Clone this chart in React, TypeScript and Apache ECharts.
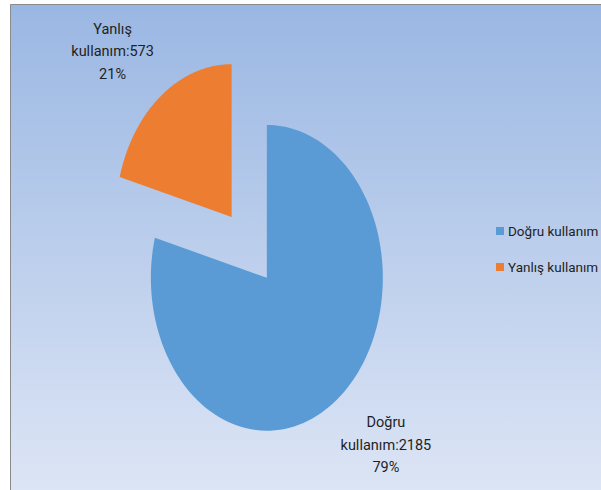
import React, { useEffect, useRef } from "react";
import * as echarts from "echarts";

const categories = ["Doğru kullanım", "Yanlış kullanım"];
const values = [2185, 573];
const colors = ["#5B9BD5", "#ED7D31"];
const explode = [0, 0.5];

const FONT = "Roboto, 'Noto Sans', sans-serif";

export default function App() {
  const ref = useRef<HTMLDivElement>(null);
  useEffect(() => {
    if (!ref.current) return;
    const chart = echarts.init(ref.current, undefined, { renderer: "svg" });
    const total = values.reduce((a, b) => a + b, 0);

    const renderItem = (params: any, api: any) => {
      const W = api.getWidth();
      const H = api.getHeight();
      const cx0 = W * 0.444;
      const cy0 = H * 0.567;
      const rx = W * 0.193;
      const ry = H * 0.312;
      const i = params.dataIndex;
      const v = api.value(0);
      let before = 0;
      for (let k = 0; k < i; k++) before += values[k];
      const a0 = (before / total) * Math.PI * 2;
      const a1 = ((before + v) / total) * Math.PI * 2;
      const mid = (a0 + a1) / 2;
      const ex = explode[i] || 0;
      const cx = cx0 + ex * rx * Math.sin(mid);
      const cy = cy0 - ex * ry * Math.cos(mid);
      const pts: number[][] = [[cx, cy]];
      const n = 120;
      for (let s = 0; s <= n; s++) {
        const a = a0 + ((a1 - a0) * s) / n;
        pts.push([cx + rx * Math.sin(a), cy - ry * Math.cos(a)]);
      }
      const pct = Math.round((v / total) * 100);
      const label = categories[i].replace(" ", "\n") + ":" + v + "\n" + pct + "%";
      const lx = cx + rx * 1.69 * Math.sin(mid);
      const ly = cy - ry * 1.37 * Math.cos(mid) + 1;
      return {
        type: "group",
        children: [
          {
            type: "polygon",
            shape: { points: pts },
            style: { fill: colors[i], stroke: null },
          },
          {
            type: "text",
            style: {
              text: label,
              x: lx,
              y: ly,
              align: "center",
              verticalAlign: "middle",
              fontSize: 14.5,
              lineHeight: 22.5,
              fontFamily: FONT,
              fill: "#1f1f1f",
            },
          },
        ],
      };
    };

    chart.setOption({
      animation: false,
      color: colors,
      graphic: [
        {
          type: "rect",
          z: -10,
          shape: { x: 10.5, y: 4.5, width: 620, height: 520 },
          style: {
            fill: new echarts.graphic.LinearGradient(0, 0, 0, 1, [
              { offset: 0, color: "#9AB7E3" },
              { offset: 1, color: "#E1E8F6" },
            ]),
            stroke: "#8a8a8a",
            lineWidth: 1,
          },
          silent: true,
        },
      ],
      legend: {
        orient: "vertical",
        left: 491,
        top: 219,
        icon: "rect",
        itemWidth: 8,
        itemHeight: 8,
        itemGap: 22,
        data: categories,
        textStyle: { fontSize: 13.5, fontFamily: FONT, color: "#1f1f1f", padding: [0, 0, 0, -1] },
      },
      series: [
        {
          type: "custom",
          coordinateSystem: "none",
          renderItem,
          data: values.map((v) => [v]),
          silent: true,
        },
        {
          type: "pie",
          radius: [0, 0],
          center: ["44%", "57%"],
          label: { show: false },
          silent: true,
          data: categories.map((c, i) => ({ name: c, value: values[i] })),
        },
      ],
    });
    return () => chart.dispose();
  }, []);
  return <div ref={ref} style={{ position: "absolute", left: 0, top: 0, width: 601, height: 490 }} />;
}
